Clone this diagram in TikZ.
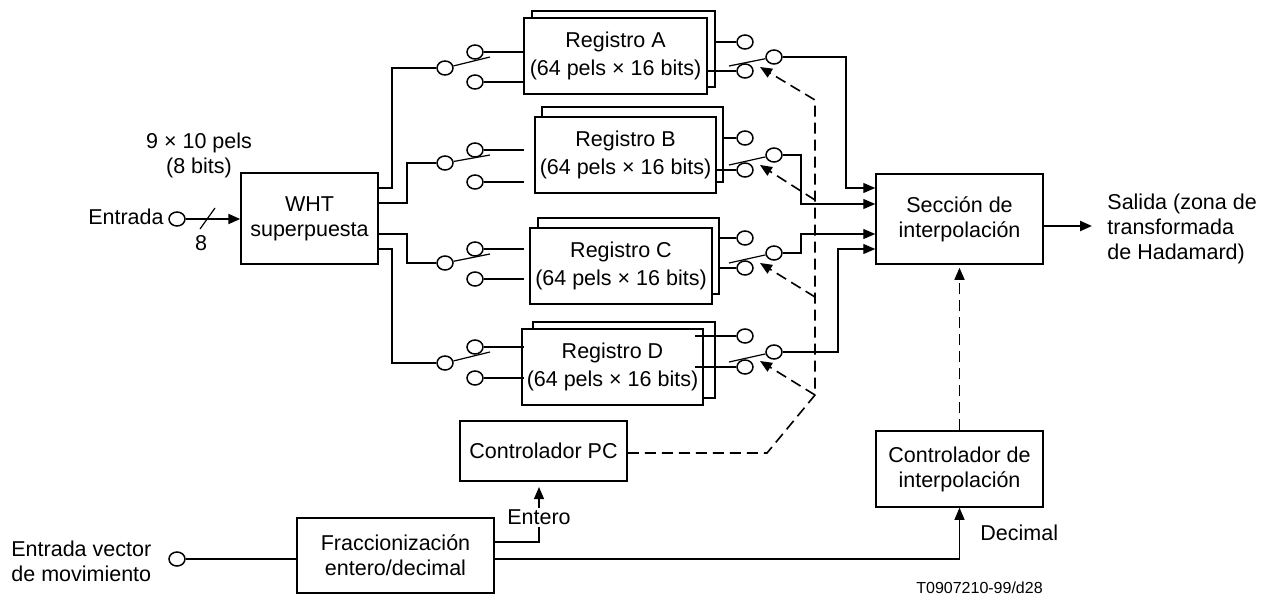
\documentclass[tikz,border=0pt]{standalone}
\usepackage{fontspec}
\setmainfont{Liberation Sans}
\usetikzlibrary{arrows.meta,shapes.geometric}
\newcommand\regfont{\fontsize{10.75}{14}\selectfont}
\begin{document}
\begin{tikzpicture}[x=0.5pt,y=-0.5pt,
  every node/.style={font=\fontsize{10.75}{12.5}\selectfont},
  box/.style={draw,line width=0.75pt,fill=white,inner sep=0pt,align=center},
  term/.style={ellipse,draw,line width=0.75pt,fill=white,minimum width=8pt,minimum height=7pt,inner sep=0pt},
  wire/.style={line width=0.6pt},
  bold/.style={line width=1.1pt},
  ctl/.style={line width=0.8pt,dash pattern=on 5.5pt off 3pt},
  tip/.style={-{Triangle[length=6pt,width=5pt]}},
]
\useasboundingbox (0,0) rectangle (1261,599);

% registers (back and front sheets)
\node[box,minimum width=91.5pt,minimum height=38pt] (RAb) at (623.5,49) {};
\node[box,minimum width=91.5pt,minimum height=38pt,font=\regfont] (RA) at (615.5,56) {Registro A\\(64 pels × 16 bits)};
\node[box,minimum width=90.5pt,minimum height=37.5pt] (RBb) at (632.5,144.5) {};
\node[box,minimum width=90.5pt,minimum height=38pt,font=\regfont] (RB) at (625.5,155) {Registro B\\(64 pels × 16 bits)};
\node[box,minimum width=90.5pt,minimum height=38pt] (RCb) at (628.5,256) {};
\node[box,minimum width=91pt,minimum height=38pt,font=\regfont] (RC) at (621,266) {Registro C\\(64 pels × 16 bits)};
\node[box,minimum width=91pt,minimum height=38pt] (RDb) at (624,360) {};
\node[box,minimum width=90.5pt,minimum height=38pt,font=\regfont] (RD) at (612.5,367) {Registro D\\(64 pels × 16 bits)};

% other blocks
\node[box,minimum width=68.5pt,minimum height=45.5pt] (WHT) at (309.5,218.5) {WHT\\superpuesta};
\node[box,minimum width=83.5pt,minimum height=45pt] (SI) at (959.5,219) {Sección de\\interpolación};
\node[box,minimum width=83.5pt,minimum height=38pt] (CI) at (959.5,469) {Controlador de\\interpolación};
\node[box,minimum width=83.5pt,minimum height=30pt] (PC) at (543.5,451) {Controlador PC};
\node[box,minimum width=98.5pt,minimum height=37.5pt] (FR) at (395.5,555.5) {Fraccionización\\entero/decimal};

% left switches
\foreach \r/\yi/\yu/\yl in {A/68/52/82,B/163/150/182,C/263/249/279,D/363/347/378}{
  \node[term] (Li\r) at (445,\yi) {};
  \node[term] (Lu\r) at (475,\yu) {};
  \node[term] (Ll\r) at (475,\yl) {};
  \coordinate (Lb\r) at (490,\yu+5);
  \coordinate (Le\r) at (524,\yu);
  \coordinate (Lf\r) at (524,\yl);
  \draw[wire] (Li\r) -- (Lb\r);
  \draw[bold] (Lu\r) -- (Le\r);
  \draw[bold] (Ll\r) -- (Lf\r);
}

% right switches
\foreach \r/\yp/\yu/\yl/\xu/\xl in {A/57/42/71/714/707,B/155/138/170/723/716,C/253/238/268/720/720,D/352/336/367/695/695}{
  \node[term] (Rp\r) at (774,\yp) {};
  \node[term] (Ru\r) at (745,\yu) {};
  \node[term] (Rl\r) at (745,\yl) {};
  \coordinate (Rb\r) at (729,\yl-5);
  \coordinate (Rs\r) at (\xu,\yu);
  \coordinate (Rt\r) at (\xl,\yl);
  \draw[wire] (Rp\r) -- (Rb\r);
  \draw[bold] (Rs\r) -- (Ru\r);
  \draw[bold] (Rt\r) -- (Rl\r);
}

% WHT outputs to switches
\draw[wire] (WHT.east |- 0,188) -- (392,188) |- (LiA);
\draw[wire] (WHT.east |- 0,203) -- (407,203) |- (LiB);
\draw[wire] (WHT.east |- 0,234) -- (407,234) |- (LiC);
\draw[wire] (WHT.east |- 0,249) -- (392,249) |- (LiD);

% switch outputs to interpolation section
\draw[wire,tip] (RpA) -| (846,188) -- (SI.west |- 0,188);
\draw[wire,tip] (RpB) -| (801,204) -- (SI.west |- 0,204);
\draw[wire,tip] (RpC) -| (801,234) -- (SI.west |- 0,234);
\draw[wire,tip] (RpD) -| (838,249) -- (SI.west |- 0,249);

% output
\coordinate (OUT) at (1092,226);
\draw[bold,tip] (SI.east |- OUT) -- (OUT);
\node[anchor=west,align=left,inner sep=0pt] (LOUT) at (1107,229) {Salida (zona de\\transformada\\de Hadamard)};

% PC controller dashed control lines
\coordinate (K1) at (767,453);
\coordinate (K2) at (815,395);
\coordinate (K3) at (815,100);
\coordinate (KB) at (815,200);
\coordinate (KC) at (815,297);
\coordinate (TA) at (760,67);
\coordinate (TB) at (760,165);
\coordinate (TC) at (760,263);
\coordinate (TD) at (760,361);
\draw[ctl,tip] (PC.east |- K1) -- (K1) -- (K2) -- (K3) -- (TA);
\draw[ctl,tip] (KB) -- (TB);
\draw[ctl,tip] (KC) -- (TC);
\draw[ctl,tip] (K2) -- (TD);

% interpolation controller
\draw[ctl,tip,shorten >=1.5pt] (CI) -- (SI);

% input
\node[term] (IN) at (177,219) {};
\draw[bold,tip] (IN) -- (WHT.west |- IN);
\coordinate (S1) at (200,229);
\coordinate (S2) at (215,208);
\draw[wire] (S1) -- (S2);
\node (N8) at (201,243) {8};
\node[anchor=east,inner sep=0pt] (LEN) at (164,217) {Entrada};
\node[align=center] (LPX) at (199,155) {9 × 10 pels\\(8 bits)};

% motion vector input
\node[term] (EV) at (177,559) {};
\draw[wire] (EV) -- (EV -| FR.west);
\draw[wire,tip] (FR.east |- EV) -| (CI);
\coordinate (EPC) at (539,487);
\draw[wire,tip] (FR.east |- 0,542) -| (EPC);
\node[fill=white,inner sep=1pt] (ENT) at (539,517) {Entero};
\node[anchor=west,inner sep=0pt] (LDEC) at (980,533) {Decimal};
\node[anchor=west,align=left,inner sep=0pt] (LEV) at (11,561) {Entrada vector\\de movimiento};
\node[font=\fontsize{8}{9}\selectfont] (LT) at (979.5,588) {T0907210-99/d28};
\end{tikzpicture}
\end{document}
